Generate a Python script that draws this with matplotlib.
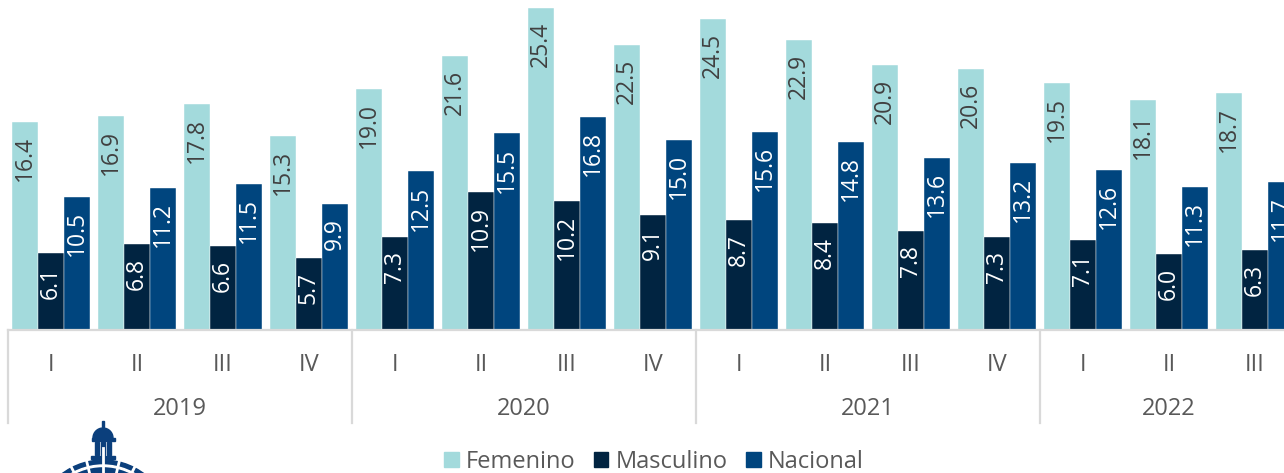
#!/usr/bin/env python3
import numpy as np
import matplotlib
matplotlib.use('Agg')
import matplotlib.pyplot as plt
import matplotlib.patches as mpatches
import matplotlib.transforms as mtransforms

years = ['2019', '2020', '2021', '2022']
quarters = ['I', 'II', 'III', 'IV'] * 3 + ['I', 'II', 'III']
femenino = [16.4, 16.9, 17.8, 15.3, 19.0, 21.6, 25.4, 22.5, 24.5, 22.9, 20.9, 20.6, 19.5, 18.1, 18.7]
masculino = [6.1, 6.8, 6.6, 5.7, 7.3, 10.9, 10.2, 9.1, 8.7, 8.4, 7.8, 7.3, 7.1, 6.0, 6.3]
nacional = [10.5, 11.2, 11.5, 9.9, 12.5, 15.5, 16.8, 15.0, 15.6, 14.8, 13.6, 13.2, 12.6, 11.3, 11.7]

COL_F = '#a3dadc'
COL_M = '#012441'
COL_N = '#00457e'
TXT = '#595959'
GRID = '#d9d9d9'

W, H = 1284, 473
plt.rcParams['font.family'] = ['Open Sans', 'DejaVu Sans']

fig = plt.figure(figsize=(W / 100, H / 100), dpi=100)
# axes: left edge at px 8 (group boundary), baseline at px 330, top at px 0
ax = fig.add_axes([8 / W, (H - 330) / H, 1 - 8 / W, 330 / H])

x = np.arange(len(quarters))
bw = 26 / 86
series = [(femenino, COL_F, 'Femenino', '#404040'),
          (masculino, COL_M, 'Masculino', 'white'),
          (nacional, COL_N, 'Nacional', 'white')]
for i, (vals, col, name, tcol) in enumerate(series):
    xs = x + (i - 1) * bw
    ax.bar(xs, vals, width=bw, color=col, label=name, edgecolor='white', linewidth=0.3)
    for xi, v in zip(xs, vals):
        ax.annotate(f'{v:.1f}', (xi, v), xytext=(0, -14), textcoords='offset pixels',
                    rotation=90, ha='center', va='top', fontsize=16.5, color=tcol)

ax.set_xlim(-0.5, -0.5 + (W - 8) / 86)
ax.set_ylim(0, 330 / 12.68)
ax.axis('off')

# baseline
ax.plot([-0.5, 20], [0, 0], color=GRID, lw=1.6, clip_on=False, zorder=5)

trans = mtransforms.blended_transform_factory(ax.transData, ax.transAxes)
for sep in [-0.5, 3.5, 7.5, 11.5]:
    ax.plot([sep, sep], [0, -93 / 330], color=GRID, lw=1.6, transform=trans, clip_on=False)

for xi, q in zip(x, quarters):
    ax.text(xi, -35 / 330, q, transform=trans, ha='center', va='center',
            fontsize=17, color=TXT)

year_pos = [1.5, 5.5, 9.5, 13.0]
for xp, yr in zip(year_pos, years):
    ax.text(xp, -79 / 330, yr, transform=trans, ha='center', va='center',
            fontsize=17, color=TXT)

handles = [mpatches.Patch(color=c, label=n) for _, c, n, _ in series]
fig.legend(handles=handles, loc='center', bbox_to_anchor=(654 / W, 1 - 462 / H),
           ncol=3, frameon=False, fontsize=17, handlelength=0.6, handleheight=0.6,
           handletextpad=0.3, columnspacing=0.8, labelcolor=TXT)

# small dome logo (cut at the bottom edge like the reference)
lg = fig.add_axes([40 / W, 0, 130 / W, 58 / H])
lg.set_xlim(0, 130)
lg.set_ylim(58, 0)
lg.set_aspect('equal')
lg.axis('off')
LOGO = '#0b3f7c'
lg.add_patch(mpatches.Rectangle((62, 6), 1.6, 6, color=LOGO))
lg.add_patch(mpatches.Wedge((63, 23), 10, 180, 360, color=LOGO))
lg.add_patch(mpatches.Rectangle((51.5, 22.5), 23, 3, color=LOGO))
for cx in [54.5, 61, 67.5]:
    lg.add_patch(mpatches.Rectangle((cx, 27), 4, 13, color=LOGO))
lg.add_patch(mpatches.Rectangle((51, 41), 24, 3, color=LOGO))
lg.add_patch(mpatches.Wedge((63, 113), 68, 180, 360, color=LOGO, width=22))
for ang in np.linspace(215, 325, 9):
    a = np.radians(ang)
    lg.plot([63, 63 + 80 * np.cos(a)], [113, 113 + 80 * np.sin(a)],
            color='white', lw=2.0)
lg.add_patch(mpatches.Wedge((63, 113), 63, 180, 360, color='white', width=1.5))

fig.savefig('out.png', dpi=100)
